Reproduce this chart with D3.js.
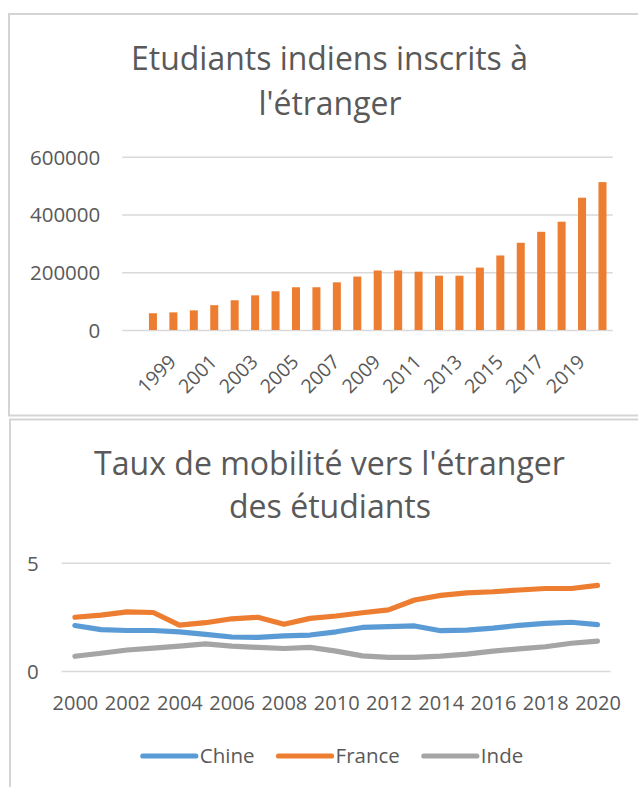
<!DOCTYPE html>
<html><head><meta charset="utf-8">
<script src="https://cdn.jsdelivr.net/npm/d3@7"></script>
<style>
body{margin:0;background:#fff}
svg{display:block}
text{font-family:'Open Sans','Noto Sans',sans-serif;fill:#595959}
</style>
</head><body>
<svg id="c" width="638" height="787"></svg>
<script>
// ---------- Data: chart 1 (bars) ----------
const barCategories = ["", "1998", "1999", "2000", "2001", "2002", "2003", "2004", "2005", "2006", "2007", "2008",
  "2009", "2010", "2011", "2012", "2013", "2014", "2015", "2016", "2017", "2018", "2019", "2020"];
const barValues = [null, 58000, 61000, 68000, 86000, 103000, 120000, 134000, 148000, 148000, 165000, 185000,
  206000, 206000, 202000, 188000, 188000, 216000, 258000, 302000, 340000, 375000, 458000, 512000];
const barTickLabels = ["1999", "2001", "2003", "2005", "2007", "2009", "2011", "2013", "2015", "2017", "2019"];
const barYTicks = [0, 200000, 400000, 600000];
const barTitle = ["Etudiants indiens inscrits à", "l'étranger"];

// ---------- Data: chart 2 (lines) ----------
const lineYears = [2000, 2001, 2002, 2003, 2004, 2005, 2006, 2007, 2008, 2009, 2010,
  2011, 2012, 2013, 2014, 2015, 2016, 2017, 2018, 2019, 2020];
const chineValues = [2.10, 1.91, 1.87, 1.87, 1.81, 1.69, 1.57, 1.55, 1.62, 1.66, 1.81,
  2.01, 2.05, 2.08, 1.86, 1.89, 1.98, 2.11, 2.20, 2.25, 2.14];
const franceValues = [2.48, 2.58, 2.73, 2.70, 2.12, 2.23, 2.41, 2.48, 2.16, 2.43, 2.54,
  2.69, 2.82, 3.28, 3.49, 3.61, 3.66, 3.74, 3.81, 3.81, 3.95];
const indeValues = [0.68, 0.82, 0.97, 1.06, 1.15, 1.25, 1.15, 1.09, 1.04, 1.09, 0.92,
  0.70, 0.63, 0.63, 0.69, 0.78, 0.92, 1.02, 1.12, 1.28, 1.38];
const lineXTickLabels = [2000, 2002, 2004, 2006, 2008, 2010, 2012, 2014, 2016, 2018, 2020];
const lineYTicks = [0, 5];
const seriesNames = ["Chine", "France", "Inde"];
const seriesColors = ["#5B9BD5", "#ED7D31", "#A5A5A5"];
const lineTitle = ["Taux de mobilité vers l'étranger", "des étudiants"];

const svg = d3.select("#c");
const grid = "#d9d9d9";
const labelColor = "#595959";

function fitWidth(sel, w) {
  const l = sel.node().getComputedTextLength();
  const fs = parseFloat(sel.attr("font-size"));
  sel.attr("font-size", fs * w / l);
}

// Chart frames
svg.append("rect").attr("x", 9).attr("y", 14).attr("width", 700).attr("height", 401.5)
  .attr("fill", "#fff").attr("stroke", "#d4d4d4").attr("stroke-width", 2);
svg.append("rect").attr("x", 10).attr("y", 419.5).attr("width", 700).attr("height", 420)
  .attr("fill", "#fff").attr("stroke", "#d4d4d4").attr("stroke-width", 2);

// ---------- Chart 1 ----------
const t1a = svg.append("text").attr("x", 329.5).attr("y", 70).attr("text-anchor", "middle")
  .attr("font-size", 30).text(barTitle[0]);
fitWidth(t1a, 397);
const t1b = svg.append("text").attr("x", 330).attr("y", 115).attr("text-anchor", "middle")
  .attr("font-size", t1a.attr("font-size")).text(barTitle[1]);

const bx = d3.scaleBand().domain(barCategories).range([122.3, 612.7])
  .paddingInner(0.608).paddingOuter(0.304);
const by = d3.scaleLinear().domain([0, 600000]).range([330, 156.7]);

const byAxis = svg.append("g").attr("transform", "translate(122.3,0)")
  .call(d3.axisLeft(by).tickValues(barYTicks).tickSizeInner(-(612.7 - 122.3)).tickSizeOuter(0)
    .tickPadding(22).tickFormat(d3.format("d")));
byAxis.select(".domain").remove();
byAxis.selectAll("line").attr("stroke", grid).attr("stroke-width", 1.4);
byAxis.selectAll("text").attr("font-size", 20.5).attr("fill", labelColor).attr("dy", "0.36em")
  .style("font-family", "'Open Sans',sans-serif");

svg.append("g").selectAll("rect")
  .data(barCategories.map((c, i) => ({c, v: barValues[i]})).filter(d => d.v != null))
  .join("rect")
  .attr("x", d => bx(d.c)).attr("width", bx.bandwidth())
  .attr("y", d => by(d.v)).attr("height", d => by(0) - by(d.v))
  .attr("fill", "#ED7D31");

const bxAxis = svg.append("g").attr("transform", "translate(0,330)")
  .call(d3.axisBottom(bx).tickValues(barTickLabels).tickSize(0));
bxAxis.select(".domain").remove();
bxAxis.selectAll("text").attr("font-size", 19.5).attr("fill", labelColor)
  .attr("x", 0).attr("y", 0).attr("dy", 0)
  .attr("text-anchor", "end").attr("transform", "translate(4,33) rotate(-45)")
  .style("font-family", "'Open Sans',sans-serif");

// ---------- Chart 2 ----------
const t2a = svg.append("text").attr("x", 329.5).attr("y", 475).attr("text-anchor", "middle")
  .attr("font-size", 30).text(lineTitle[0]);
fitWidth(t2a, 471);
const t2b = svg.append("text").attr("x", 330).attr("y", 518).attr("text-anchor", "middle")
  .attr("font-size", t2a.attr("font-size")).text(lineTitle[1]);

const lx = d3.scalePoint().domain(lineYears).range([74.9, 597.5]);
const ly = d3.scaleLinear().domain([0, 5]).range([671, 562.7]);

const lyAxis = svg.append("g").attr("transform", "translate(61.7,0)")
  .call(d3.axisLeft(ly).tickValues(lineYTicks).tickSizeInner(-(610.6 - 61.7)).tickSizeOuter(0)
    .tickPadding(23).tickFormat(d3.format("d")));
lyAxis.select(".domain").remove();
lyAxis.selectAll("line").attr("stroke", grid).attr("stroke-width", 1.4);
lyAxis.selectAll("text").attr("font-size", 20.5).attr("fill", labelColor).attr("dy", "0.36em")
  .style("font-family", "'Open Sans',sans-serif");

const lxAxis = svg.append("g").attr("transform", "translate(0,671)")
  .call(d3.axisBottom(lx).tickValues(lineXTickLabels).tickSize(0).tickPadding(0));
lxAxis.select(".domain").remove();
lxAxis.selectAll("text").attr("font-size", 20).attr("fill", labelColor)
  .attr("y", 39).attr("dy", 0).style("font-family", "'Open Sans',sans-serif");

const seriesData = [chineValues, franceValues, indeValues];
const line = d3.line().x((d, i) => lx(lineYears[i])).y(d => ly(d));
svg.append("g").selectAll("path").data(seriesData).join("path")
  .attr("d", d => line(d)).attr("fill", "none")
  .attr("stroke", (d, i) => seriesColors[i]).attr("stroke-width", 5.2)
  .attr("stroke-linecap", "round").attr("stroke-linejoin", "round");

// Legend
const legend = svg.append("g");
const items = legend.selectAll("g").data(seriesNames).join("g");
items.append("line").attr("x1", 0).attr("x2", 53).attr("y1", 0).attr("y2", 0)
  .attr("stroke", (d, i) => seriesColors[i]).attr("stroke-width", 5.2).attr("stroke-linecap", "round");
items.append("text").attr("x", 57).attr("y", 0).attr("dy", "0.36em")
  .attr("font-size", 20.5).attr("fill", labelColor).text(d => d);
const widths = [];
items.each(function () {
  const w = 57 + d3.select(this).select("text").node().getComputedTextLength();
  widths.push(w);
});
const totalW = d3.sum(widths) + 24 * (widths.length - 1);
let start = 333 - totalW / 2;
items.attr("transform", (d, i) => {
  const x = start;
  start += widths[i] + 24;
  return `translate(${x},756)`;
});
</script>
</body></html>
